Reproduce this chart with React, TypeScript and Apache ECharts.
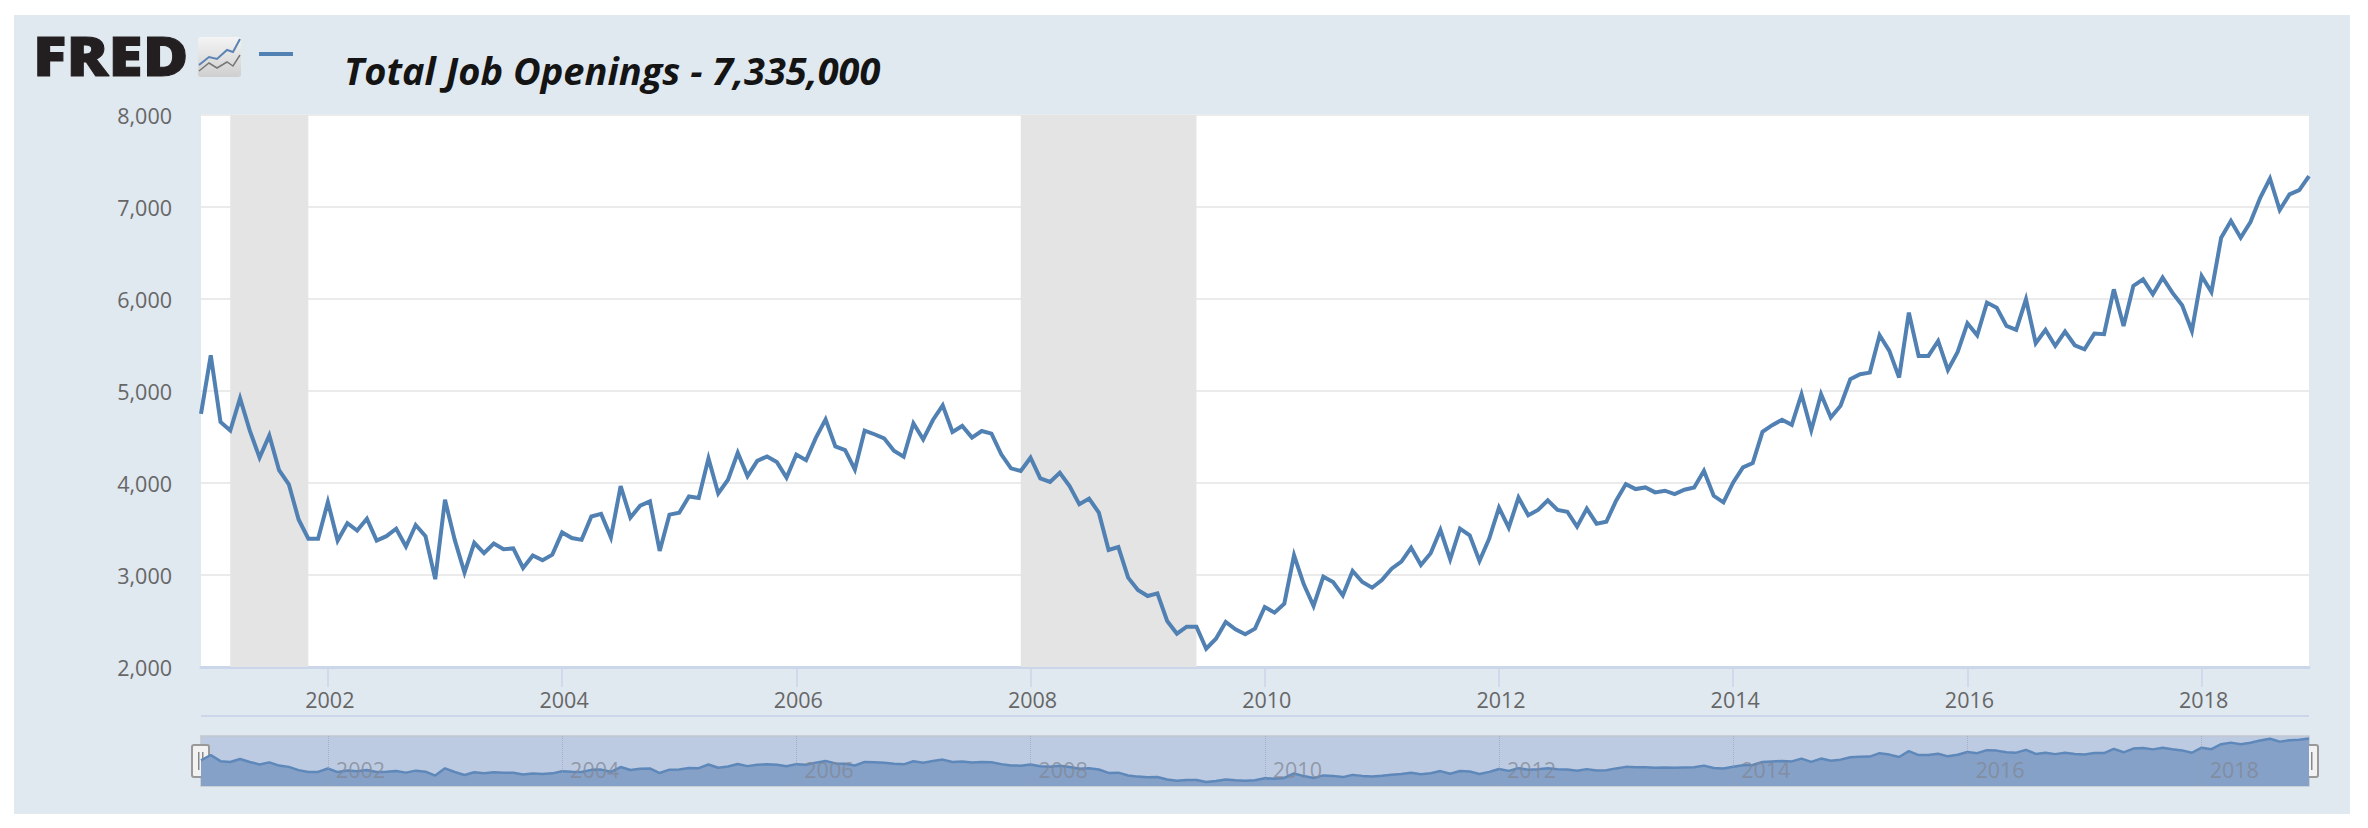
import { useEffect, useRef } from 'react';
import * as echarts from 'echarts';

const firstYear = 2000;
const firstMonth = 11; // the series starts in Dec 2000

// job openings in thousands, monthly
const jobOpenings = [
    4752, 5388, 4663, 4570, 4921, 4570, 4276, 4518, 4139, 3986, 3604, 3394, 3394,
    3793, 3374, 3563, 3483, 3612, 3374, 3422, 3503, 3310, 3543, 3422, 2955,
    3817, 3382, 3027, 3350, 3237, 3342, 3281, 3289, 3076, 3213, 3160, 3221,
    3463, 3402, 3382, 3636, 3664, 3410, 3966, 3624, 3753, 3801, 3261, 3656,
    3676, 3853, 3837, 4268, 3886, 4035, 4329, 4075, 4240, 4289, 4228, 4059,
    4309, 4248, 4490, 4691, 4397, 4357, 4147, 4570, 4530, 4485, 4350, 4286,
    4649, 4475, 4685, 4844, 4554, 4620, 4493, 4565, 4536, 4312, 4159, 4130,
    4275, 4051, 4011, 4112, 3967, 3768, 3830, 3678, 3272, 3304, 2971, 2837,
    2772, 2801, 2500, 2362, 2438, 2438, 2199, 2308, 2489, 2409, 2355, 2417,
    2652, 2591, 2688, 3214, 2899, 2663, 2982, 2924, 2779, 3043, 2924, 2862,
    2946, 3069, 3145, 3297, 3109, 3236, 3489, 3170, 3504, 3431, 3152, 3395,
    3732, 3514, 3841, 3649, 3707, 3812, 3707, 3688, 3525, 3721, 3558, 3579,
    3807, 3988, 3934, 3952, 3898, 3916, 3879, 3927, 3952, 4133, 3861, 3789,
    4006, 4169, 4216, 4556, 4629, 4687, 4632, 4965, 4574, 4965, 4712, 4839,
    5128, 5182, 5200, 5606, 5436, 5146, 5852, 5381, 5381, 5544, 5229, 5425,
    5736, 5606, 5961, 5906, 5707, 5664, 5997, 5519, 5664, 5490, 5646, 5497,
    5454, 5624, 5617, 6105, 5707, 6142, 6214, 6051, 6232, 6069, 5931, 5653,
    6250, 6076, 6666, 6847, 6666, 6836, 7100, 7310, 6967, 7137, 7184, 7335,
];

const months = jobOpenings.map((_, i) => {
    const total = firstYear * 12 + firstMonth + i;
    const m = (total % 12) + 1;
    return `${Math.floor(total / 12)}-${m < 10 ? '0' + m : m}`;
});

const tickYears = ['2002', '2004', '2006', '2008', '2010', '2012', '2014', '2016', '2018'];
const recessions = [
    ['2001-03', '2001-11'],
    ['2007-12', '2009-06'],
];

const isYearTick = (_: number, value: string) => {
    const [y, m] = value.split('-');
    return m === '01' && tickYears.includes(y);
};

const lineColor = '#5180b3';
const font = '"Open Sans"';

export default function App() {
    const chartRef = useRef<HTMLDivElement>(null);

    useEffect(() => {
        const myChart = echarts.init(chartRef.current, null, { renderer: 'svg' });

        myChart.setOption({
            animation: false,
            title: {
                text: 'Total Job Openings - 7,335,000',
                left: 339,
                top: 46,
                textStyle: {
                    fontFamily: font,
                    fontSize: 38,
                    fontWeight: 'bold',
                    fontStyle: 'italic',
                    color: '#141414',
                },
            },
            grid: [
                { left: 201, top: 115, width: 2108, height: 552, show: true, backgroundColor: '#fff', borderWidth: 0 },
                { left: 201, top: 736, width: 2108, height: 50, show: true, backgroundColor: '#bccbe1', borderColor: '#c4c8ce', borderWidth: 1.5 },
            ],
            xAxis: [
                {
                    type: 'category',
                    data: months,
                    boundaryGap: false,
                    axisLine: { lineStyle: { color: '#ccd6eb', width: 3 } },
                    axisTick: { interval: isYearTick, length: 20, lineStyle: { color: '#ccd6eb', width: 1.5 } },
                    axisLabel: {
                        interval: isYearTick,
                        formatter: (v: string) => v.slice(0, 4),
                        margin: 21,
                        padding: [0, 0, 0, 4],
                        fontFamily: font,
                        fontSize: 21.5,
                        color: '#666',
                    },
                    splitLine: { show: false },
                },
                {
                    type: 'category',
                    gridIndex: 1,
                    data: months,
                    boundaryGap: false,
                    z: 10,
                    axisLine: { show: false },
                    axisTick: { show: false },
                    axisLabel: {
                        interval: isYearTick,
                        inside: true,
                        formatter: (v: string) => v.slice(0, 4),
                        margin: 6,
                        align: 'left',
                        padding: [0, 0, 0, 8],
                        fontFamily: font,
                        fontSize: 21.5,
                        color: 'rgba(130,135,150,0.75)',
                    },
                    splitLine: {
                        show: true,
                        interval: isYearTick,
                        lineStyle: { color: 'rgba(150,160,175,0.6)', width: 1, type: 'dotted' },
                    },
                },
            ],
            yAxis: [
                {
                    type: 'value',
                    min: 2000,
                    max: 8000,
                    interval: 1000,
                    axisLine: { show: false },
                    axisTick: { show: false },
                    axisLabel: {
                        formatter: (v: number) => v.toLocaleString('en-US'),
                        margin: 29,
                        fontFamily: font,
                        fontSize: 21.5,
                        color: '#666',
                    },
                    splitLine: { lineStyle: { color: '#ebebeb', width: 2 } },
                },
                {
                    type: 'value',
                    gridIndex: 1,
                    min: 1730,
                    max: 7630,
                    show: false,
                    splitLine: { show: false },
                },
            ],
            series: [
                {
                    type: 'line',
                    data: jobOpenings,
                    showSymbol: false,
                    z: 3,
                    lineStyle: { color: lineColor, width: 4, join: 'miter' },
                    markArea: {
                        silent: true,
                        itemStyle: { color: '#e4e4e4' },
                        data: recessions.map(([from, to]) => [{ xAxis: from }, { xAxis: to }]),
                    },
                },
                {
                    type: 'line',
                    xAxisIndex: 1,
                    yAxisIndex: 1,
                    data: jobOpenings,
                    showSymbol: false,
                    lineStyle: { color: '#5f88ba', width: 2.5 },
                    areaStyle: { color: '#85a1c7', opacity: 1 },
                },
            ],
            graphic: [
                // lower border of the chart box
                { type: 'rect', shape: { x: 201, y: 715, width: 2108, height: 2 }, style: { fill: '#ccd6eb' } },
                // logo
                {
                    type: 'text',
                    x: 33,
                    y: 27,
                    scaleX: 1.13,
                    style: {
                        text: 'FRED',
                        fontFamily: font,
                        fontWeight: 800,
                        fontSize: 55,
                        fill: '#231f20',
                        stroke: '#231f20',
                        lineWidth: 1,
                    },
                },
                {
                    type: 'rect',
                    shape: { x: 198, y: 37, width: 43, height: 40, r: 3 },
                    style: {
                        fill: new echarts.graphic.LinearGradient(0, 0, 0, 1, [
                            { offset: 0, color: '#f4f4f4' },
                            { offset: 1, color: '#cfcfcf' },
                        ]),
                    },
                },
                {
                    type: 'polyline',
                    shape: { points: [[199, 71], [209, 63], [217, 68], [227, 62], [233, 66], [240, 55]] },
                    style: { stroke: '#777', lineWidth: 1.5, fill: 'none' },
                },
                {
                    type: 'polyline',
                    shape: { points: [[199, 65], [209, 57], [217, 59], [227, 50], [233, 52], [240, 39]] },
                    style: { stroke: '#5b84b5', lineWidth: 2, fill: 'none' },
                },
                // legend dash
                { type: 'rect', shape: { x: 259, y: 52, width: 34, height: 4 }, style: { fill: lineColor } },
                // navigator handles
                ...[192, 2301].map((x) => ({
                    type: 'group',
                    z: 20,
                    children: [
                        { type: 'rect', shape: { x, y: 745, width: 17, height: 32, r: 2 }, style: { fill: '#f2f2f2', stroke: '#999', lineWidth: 2 } },
                        { type: 'rect', shape: { x: x + 6, y: 752, width: 1.5, height: 18 }, style: { fill: '#888' } },
                        { type: 'rect', shape: { x: x + 10, y: 752, width: 1.5, height: 18 }, style: { fill: '#888' } },
                    ],
                })),
            ],
        });

        return () => {
            myChart.dispose();
        };
    }, []);

    return (
        <div style={{ position: 'absolute', left: 0, top: 0, width: 2368, height: 828, background: '#fff', overflow: 'hidden' }}>
            <div style={{ position: 'absolute', left: 14, top: 15, width: 2336, height: 799, background: '#e0e8f0' }} />
            <div ref={chartRef} style={{ position: 'absolute', left: 0, top: 0, width: 2368, height: 828 }} />
        </div>
    );
}
